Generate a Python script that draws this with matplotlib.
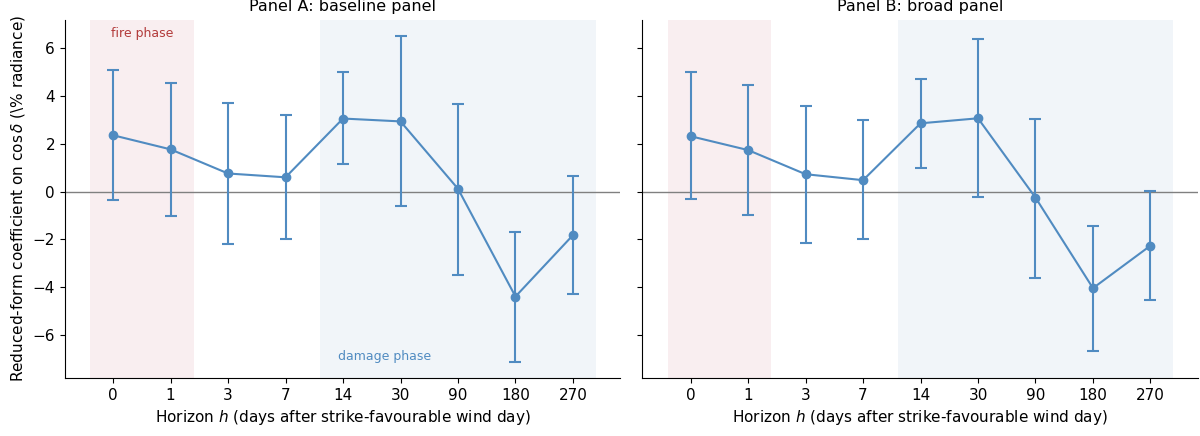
import numpy as np
import matplotlib.pyplot as plt

# horizons (days after strike-favourable wind day)
horizons = ["0", "1", "3", "7", "14", "30", "90", "180", "270"]

# panel A: baseline panel
coef_a = [2.36, 1.77, 0.76, 0.60, 3.06, 2.94, 0.12, -4.39, -1.82]
lo_a = [-0.36, -1.04, -2.18, -2.00, 1.14, -0.62, -3.47, -7.11, -4.27]
hi_a = [5.11, 4.55, 3.70, 3.21, 4.99, 6.51, 3.67, -1.70, 0.64]

# panel B: broad panel
coef_b = [2.32, 1.74, 0.73, 0.48, 2.86, 3.07, -0.25, -4.04, -2.26]
lo_b = [-0.31, -0.97, -2.13, -2.00, 0.98, -0.21, -3.62, -6.65, -4.55]
hi_b = [4.99, 4.45, 3.57, 2.98, 4.72, 6.38, 3.05, -1.43, 0.03]

panels = [("Panel A: baseline panel", coef_a, lo_a, hi_a),
          ("Panel B: broad panel", coef_b, lo_b, hi_b)]

col = "#508bc1"
x = np.arange(len(horizons))

fig, axes = plt.subplots(1, 2, figsize=(12, 4.36), dpi=100, sharey=True)
fig.subplots_adjust(left=0.054, right=0.998, top=0.955, bottom=0.133, wspace=0.04)

for ax, (title, coef, lo, hi) in zip(axes, panels):
    coef = np.array(coef)
    err = [coef - np.array(lo), np.array(hi) - coef]
    ax.axvspan(-0.4, 1.4, color="#f9eef0", zorder=0, lw=0)
    ax.axvspan(3.6, 8.4, color="#f1f5f9", zorder=0, lw=0)
    ax.axhline(0, color="grey", lw=1, zorder=1)
    ax.errorbar(x, coef, yerr=err, color=col, marker="o", ms=6, lw=1.5,
                capsize=4, elinewidth=1.5, capthick=1.5, zorder=3)
    ax.set_title(title, fontsize=11.5)
    ax.set_xticks(x)
    ax.set_xticklabels(horizons)
    ax.set_xlim(-0.84, 8.82)
    ax.set_ylim(-7.8, 7.2)
    ax.set_xlabel("Horizon $h$ (days after strike-favourable wind day)", fontsize=11)
    ax.tick_params(labelsize=11)
    ax.spines["top"].set_visible(False)
    ax.spines["right"].set_visible(False)

axes[0].set_ylabel(r"Reduced-form coefficient on $\cos\delta$ (\% radiance)", fontsize=11)
axes[0].text(0.5, 6.6, "fire phase", color="#b23a3a", fontsize=9, ha="center", va="center")
axes[0].text(4.72, -6.9, "damage phase", color=col, fontsize=9, ha="center", va="center")

fig.savefig("out.png")
